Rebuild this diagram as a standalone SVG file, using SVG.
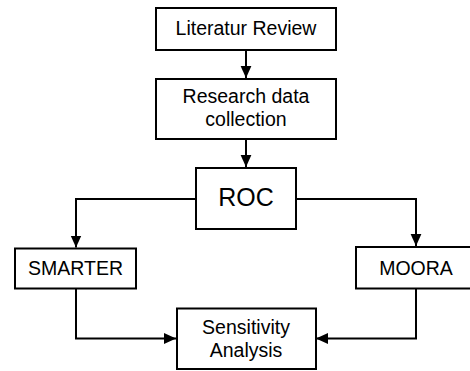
<svg xmlns="http://www.w3.org/2000/svg" width="470" height="371" viewBox="0 0 470 371">
<style>
.box{fill:#fff;stroke:#000;stroke-width:2}
.t{font-family:"Liberation Sans",Arial,sans-serif;font-size:19.5px;fill:#000;text-anchor:middle}
.c{fill:none;stroke:#000;stroke-width:2;marker-end:url(#ah)}
</style>
<defs>
<marker id="ah" markerUnits="userSpaceOnUse" markerWidth="12" markerHeight="12" viewBox="0 0 10 10" refX="10" refY="5" orient="auto">
<path d="M0,0.5 L10,5 L0,9.5 Z" fill="#000"/>
</marker>
</defs>
<g id="connectors">
<path class="c" d="M246,50 V78"/>
<path class="c" d="M246,139 V167"/>
<path class="c" d="M196,199 H76 V247.5"/>
<path class="c" d="M296,199 H416 V246"/>
<path class="c" d="M76,289 V338.5 H176"/>
<path class="c" d="M416,289 V338.5 H316"/>
</g>
<g id="n1"><rect class="box" x="156" y="8" width="180" height="42"/><text class="t" x="246" y="35">Literatur Review</text></g>
<g id="n2"><rect class="box" x="156" y="79" width="180" height="60"/><text class="t" x="246" y="102.5">Research data</text><text class="t" x="246" y="126">collection</text></g>
<g id="n3"><rect class="box" x="196" y="168" width="100" height="61"/><text class="t" x="246" y="206" style="font-size:25px">ROC</text></g>
<g id="n4"><rect class="box" x="15" y="248.5" width="121" height="40"/><text class="t" x="75.5" y="275">SMARTER</text></g>
<g id="n5"><rect class="box" x="356" y="247" width="118" height="41.5"/><text class="t" x="416" y="275">MOORA</text></g>
<g id="n6"><rect class="box" x="177" y="308.5" width="139" height="60.5"/><text class="t" x="246" y="334">Sensitivity</text><text class="t" x="246" y="356.5">Analysis</text></g>
</svg>
